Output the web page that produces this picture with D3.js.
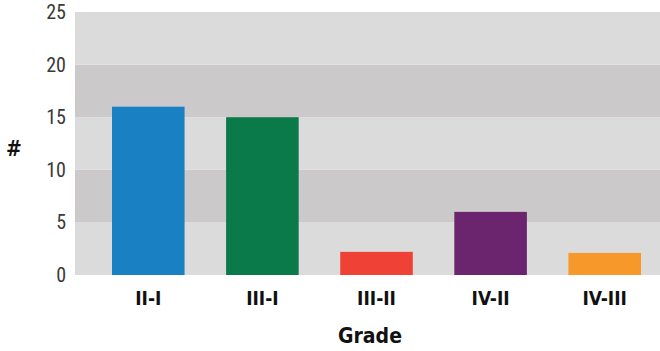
<!DOCTYPE html>
<html>
<head>
<meta charset="utf-8">
<script src="https://cdn.jsdelivr.net/npm/d3@7"></script>
<style>
  body { margin: 0; background: #fff; }
  svg { display: block; }
  .tick-label { font-family: "Liberation Sans Narrow", "Roboto Condensed", "DejaVu Sans Condensed", sans-serif; font-size: 20px; fill: #3a3a3a; }
  .cat-label { font-family: "Liberation Sans Narrow", "DejaVu Sans Condensed", sans-serif; font-size: 19px; font-weight: bold; fill: #111; }
  .axis-title { font-family: "Liberation Sans Narrow", "DejaVu Sans Condensed", sans-serif; font-size: 21px; font-weight: bold; fill: #111; }
</style>
</head>
<body>
<div id="chart"></div>
<script>
// chart data
const grades = ["II-I", "III-I", "III-II", "IV-II", "IV-III"];
const counts = [16, 15, 2.2, 6, 2.1];
const barColors = ["#1a80c4", "#0b7a4a", "#ef4136", "#6b256e", "#f7992a"];
const yTicks = [0, 5, 10, 15, 20, 25];

const width = 660, height = 351;
const plot = { left: 75, right: 660, top: 12, bottom: 275 };

const svg = d3.select("#chart")
    .append("svg")
    .attr("width", width)
    .attr("height", height);

const y = d3.scaleLinear()
    .domain([0, 25])
    .range([plot.bottom, plot.top]);

const x = d3.scaleBand()
    .domain(grades)
    .range([74, 679])
    .paddingInner(0.364)
    .paddingOuter(0.333);

// alternating background bands
const bands = d3.range(yTicks.length - 1).map(i => [yTicks[i], yTicks[i + 1]]);
svg.append("g")
    .selectAll("rect")
    .data(bands)
    .enter()
    .append("rect")
    .attr("x", plot.left)
    .attr("width", plot.right - plot.left)
    .attr("y", d => y(d[1]))
    .attr("height", d => y(d[0]) - y(d[1]))
    .attr("fill", (d, i) => i % 2 === 0 ? "#dbdbdb" : "#cbc9ca");

// bars
svg.append("g")
    .selectAll("rect")
    .data(grades)
    .enter()
    .append("rect")
    .attr("x", d => x(d))
    .attr("width", x.bandwidth())
    .attr("y", (d, i) => y(counts[i]))
    .attr("height", (d, i) => y(0) - y(counts[i]))
    .attr("fill", (d, i) => barColors[i]);

// y tick labels
svg.append("g")
    .selectAll("text")
    .data(yTicks)
    .enter()
    .append("text")
    .attr("class", "tick-label")
    .attr("x", 66)
    .attr("y", d => y(d))
    .attr("dy", "0.35em")
    .style("text-anchor", "end")
    .text(d => d);

// x category labels
svg.append("g")
    .selectAll("text")
    .data(grades)
    .enter()
    .append("text")
    .attr("class", "cat-label")
    .attr("x", d => x(d) + x.bandwidth() / 2)
    .attr("y", 305)
    .style("text-anchor", "middle")
    .text(d => d);

svg.append("text")
    .attr("class", "axis-title")
    .attr("x", 370)
    .attr("y", 343)
    .style("text-anchor", "middle")
    .text("Grade");

svg.append("text")
    .attr("class", "axis-title")
    .attr("x", 14)
    .attr("y", 156)
    .style("text-anchor", "middle")
    .text("#");
</script>
</body>
</html>
